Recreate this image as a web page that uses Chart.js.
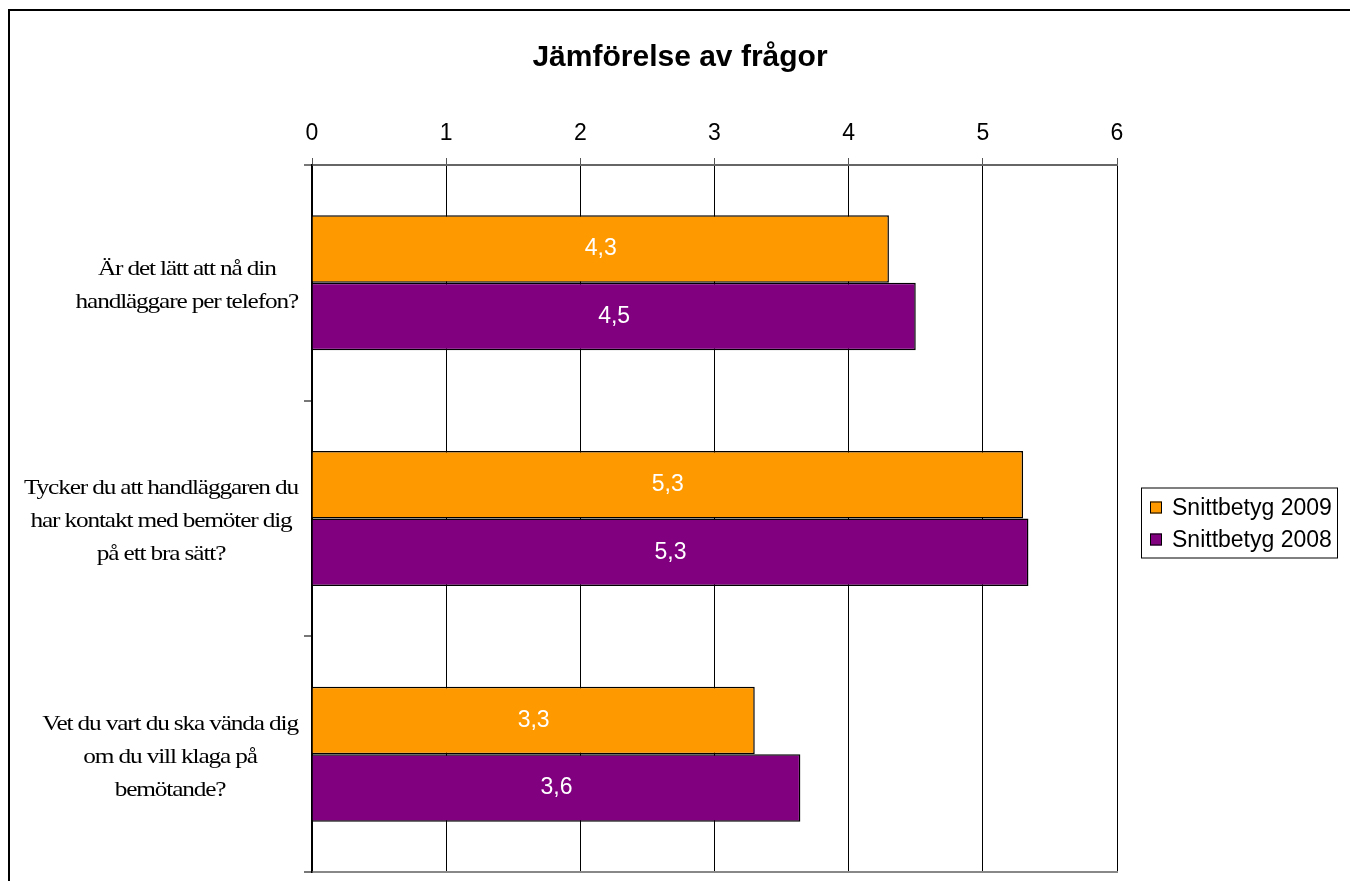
<!DOCTYPE html>
<html>
<head>
<meta charset="utf-8">
<script src="https://cdn.jsdelivr.net/npm/chart.js@4.4.1/dist/chart.umd.min.js"></script>
<style>
  html, body { margin: 0; padding: 0; background: #fff; overflow: hidden; }
  canvas { display: block; }
</style>
</head>
<body>
<canvas id="chart" width="1350" height="881"></canvas>
<script>
// questions, already wrapped the way the original shows them
const categories = [
  ['Är det lätt att nå din', 'handläggare per telefon?'],
  ['Tycker du att handläggaren du', 'har kontakt med bemöter dig', 'på ett bra sätt?'],
  ['Vet du vart du ska vända dig', 'om du vill klaga på', 'bemötande?']
];
const seriesNames = ['Snittbetyg 2009', 'Snittbetyg 2008'];
const snitt2009 = [4.3, 5.3, 3.3];
const snitt2008 = [4.5, 5.34, 3.64];
const xMin = 0;
const xMax = 6;
const xStep = 1;
const chartTitle = 'Jämförelse av frågor';

const sans = '"Liberation Sans", Arial, sans-serif';
const serif = '"Liberation Serif", "Times New Roman", serif';

const fmt = v => v.toFixed(1).replace('.', ',');

// frame round the whole picture (runs off the right and bottom edge) + title
const framePlugin = {
  id: 'frame',
  afterDraw(chart) {
    const ctx = chart.ctx;
    ctx.save();
    ctx.strokeStyle = '#000';
    ctx.lineWidth = 2;
    ctx.strokeRect(9, 10, 1400, 1000);
    ctx.font = 'bold 30px ' + sans;
    ctx.fillStyle = '#000';
    ctx.textAlign = 'center';
    ctx.textBaseline = 'middle';
    ctx.fillText(chartTitle, 680, 58);
    ctx.restore();
  }
};

// wrapped serif question labels, centred within a right-aligned block
const questionLabels = {
  id: 'questionLabels',
  afterDraw(chart) {
    const ctx = chart.ctx;
    const yScale = chart.scales.y;
    const right = yScale.right - 14;
    const lineH = 33;
    const stretch = 1.15;
    ctx.save();
    ctx.font = '22px ' + serif;
    ctx.fillStyle = '#000';
    ctx.textAlign = 'center';
    ctx.textBaseline = 'middle';
    if ('letterSpacing' in ctx) ctx.letterSpacing = '-1px';
    categories.forEach((lines, i) => {
      const cy = yScale.getPixelForValue(i) + 3;
      const maxW = Math.max(...lines.map(l => ctx.measureText(l).width)) * stretch;
      const cx = right - maxW / 2;
      lines.forEach((line, j) => {
        const y = cy + (j - (lines.length - 1) / 2) * lineH;
        ctx.save();
        ctx.translate(cx, y);
        ctx.scale(stretch, 1);
        ctx.fillText(line, 0, 0);
        ctx.restore();
      });
    });
    ctx.restore();
  }
};

// white value labels in the middle of each bar
const valueLabels = {
  id: 'valueLabels',
  afterDatasetsDraw(chart) {
    const ctx = chart.ctx;
    ctx.save();
    ctx.font = '23px ' + sans;
    ctx.fillStyle = '#fff';
    ctx.textAlign = 'center';
    ctx.textBaseline = 'middle';
    chart.data.datasets.forEach((ds, di) => {
      chart.getDatasetMeta(di).data.forEach((bar, i) => {
        ctx.fillText(fmt(ds.data[i]), (bar.base + bar.x) / 2, bar.y);
      });
    });
    ctx.restore();
  }
};

// boxed legend to the right of the plot
const boxLegend = {
  id: 'boxLegend',
  afterDraw(chart) {
    const ctx = chart.ctx;
    const area = chart.chartArea;
    const w = 196, h = 70;
    const left = area.right + 24;
    const top = (area.top + area.bottom) / 2 - h / 2 + 4;
    ctx.save();
    ctx.strokeStyle = '#000';
    ctx.lineWidth = 1;
    ctx.strokeRect(left + 0.5, top + 0.5, w, h);
    ctx.font = '23px ' + sans;
    ctx.textBaseline = 'middle';
    ctx.textAlign = 'left';
    chart.data.datasets.forEach((ds, i) => {
      const cy = top + 20 + i * 32;
      ctx.fillStyle = ds.backgroundColor;
      ctx.fillRect(left + 9, cy - 6, 12, 12);
      ctx.strokeStyle = '#000';
      ctx.strokeRect(left + 9.5, cy - 5.5, 11, 11);
      ctx.fillStyle = '#000';
      ctx.fillText(ds.label, left + 31, cy + 1);
    });
    ctx.restore();
  }
};

new Chart(document.getElementById('chart'), {
  type: 'bar',
  data: {
    labels: categories,
    datasets: [
      {
        label: seriesNames[0],
        data: snitt2009,
        backgroundColor: '#FF9900',
        borderColor: '#000',
        borderWidth: 1.5
      },
      {
        label: seriesNames[1],
        data: snitt2008,
        backgroundColor: '#800080',
        borderColor: '#000',
        borderWidth: 1.5
      }
    ]
  },
  options: {
    indexAxis: 'y',
    responsive: false,
    animation: false,
    layout: { padding: { top: 76, right: 233, bottom: 9, left: 0 } },
    datasets: {
      bar: { categoryPercentage: 0.573, barPercentage: 1 }
    },
    scales: {
      x: {
        type: 'linear',
        position: 'top',
        min: xMin,
        max: xMax,
        ticks: {
          stepSize: xStep,
          padding: 11,
          color: '#000',
          font: { family: sans, size: 23 },
          callback: v => String(v)
        },
        grid: { color: '#000', lineWidth: 1, tickColor: '#555', tickLength: 7 },
        border: { color: '#666', width: 2 },
        afterFit(scale) { scale.height = 89; }
      },
      xBottom: {
        type: 'linear',
        position: 'bottom',
        min: xMin,
        max: xMax,
        ticks: { display: false },
        grid: { display: false },
        border: { color: '#888', width: 2 },
        afterFit(scale) { scale.height = 0; }
      },
      y: {
        ticks: { display: false },
        grid: {
          offset: true,
          drawOnChartArea: false,
          color: '#777',
          lineWidth: 2,
          tickLength: 8
        },
        border: { color: '#000', width: 1.5 },
        afterFit(scale) { scale.width = 312; }
      }
    },
    plugins: {
      legend: { display: false },
      tooltip: { enabled: false },
      title: { display: false }
    }
  },
  plugins: [valueLabels, questionLabels, boxLegend, framePlugin]
});
</script>
</body>
</html>
